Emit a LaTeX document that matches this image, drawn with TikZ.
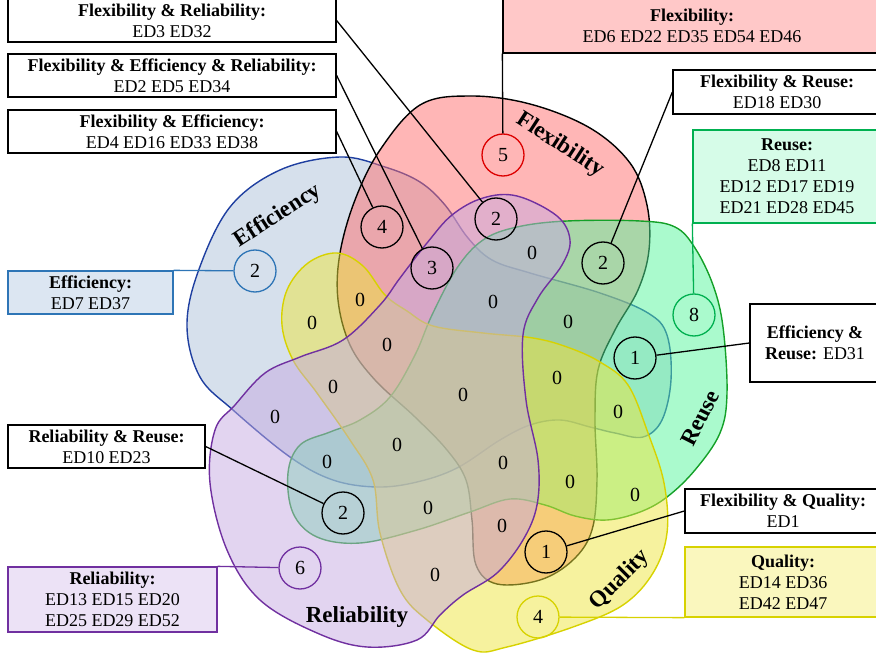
\documentclass[tikz,border=0pt]{standalone}
\usepackage{fontspec}
\setmainfont{Liberation Serif}
\definecolor{effC}{RGB}{173,193,217}
\definecolor{effL}{RGB}{31,63,160}
\definecolor{flxC}{RGB}{255,110,110}
\definecolor{reuC}{RGB}{85,245,155}
\definecolor{reuL}{RGB}{20,160,40}
\definecolor{quaC}{RGB}{237,229,61}
\definecolor{quaL}{RGB}{215,210,0}
\definecolor{relC}{RGB}{197,169,225}
\definecolor{relL}{RGB}{112,48,160}
\definecolor{redL}{RGB}{220,0,0}
\definecolor{bluL}{RGB}{46,117,182}
\definecolor{grnL}{RGB}{0,176,80}
\definecolor{flxB}{RGB}{255,200,200}
\definecolor{reuB}{RGB}{214,252,232}
\definecolor{quaB}{RGB}{250,247,190}
\definecolor{effB}{RGB}{220,230,242}
\definecolor{relB}{RGB}{236,226,246}
\begin{document}
\begin{tikzpicture}[x=1pt,y=-1pt,
  setshape/.style={fill opacity=0.5, line width=1.4pt},
  lbl/.style={font=\fontsize{23}{26}\selectfont\bfseries, inner sep=0},
  cnt/.style={circle, draw, minimum size=42pt, inner sep=0, line width=1.3pt, font=\fontsize{20}{24}\selectfont},
  zero/.style={font=\fontsize{20}{24}\selectfont, inner sep=0},
  tbox/.style={draw, line width=1.3pt, fill=white, align=center, inner sep=0, font=\fontsize{18}{21}\selectfont},
  conn/.style={line width=1.3pt}
]
\useasboundingbox (0,0) rectangle (876,655);
\clip (0,0) rectangle (876,655);

% Efficiency
\draw[setshape, draw=effL, fill=effC] plot[smooth cycle, tension=0.6] coordinates {
 (340,157) (385,167) (420,182) (445,205) (468,238) (492,260) (530,273) (600,293)
 (648,313) (667,335) (671,380) (662,420) (643,437) (615,433) (590,427) (560,420)
 (530,425) (500,440) (457,468) (417,482) (377,487) (333,480) (290,457) (233,410)
 (200,377) (187,327) (198,272) (230,207) (280,170)};
% Flexibility
\draw[setshape, draw=black, fill=flxC] plot[smooth cycle, tension=0.6] coordinates {
 (420,105) (470,96) (530,104) (590,128) (630,163) (647,205) (649,250) (638,290)
 (615,330) (598,370) (595,420) (597,480) (592,530) (573,560) (540,580) (497,584)
 (476,565) (472,520) (466,480) (447,450) (415,417) (375,380) (350,345) (338,300)
 (340,253) (355,200) (380,150)};
% Reuse
\draw[setshape, draw=reuL, fill=reuC] plot[smooth cycle, tension=0.6] coordinates {
 (457,268) (483,240) (517,227) (567,221) (640,221) (675,227) (695,248) (713,285)
 (723,327) (727,393) (720,433) (695,470) (667,497) (640,512) (607,520) (575,516)
 (545,505) (510,499) (470,512) (417,530) (360,543) (317,537) (293,513) (288,473)
 (300,445) (330,432) (360,420) (390,397) (415,355) (432,315)};
% Quality
\draw[setshape, draw=quaL, fill=quaC] plot[smooth cycle, tension=0.6] coordinates {
 (337,253) (363,266) (385,295) (407,311) (433,326) (483,333) (533,338) (567,347)
 (600,362) (628,385) (648,433) (664,483) (667,533) (653,573) (623,605) (573,627)
 (507,647) (473,650) (427,620) (400,590) (380,533) (373,480) (350,440) (317,393)
 (293,360) (282,325) (287,290) (308,263)};
% Reliability
\draw[setshape, draw=relL, fill=relC] plot[smooth cycle, tension=0.6] coordinates {
 (483,198) (517,196) (557,216) (570,240) (562,265) (538,298) (523,335) (526,400)
 (538,460) (537,505) (523,540) (497,573) (463,595) (440,615) (417,640) (367,647)
 (317,633) (260,600) (227,550) (210,483) (215,430) (235,405) (265,373) (300,357)
 (343,340) (380,305) (400,278) (427,243) (452,215)};

% set labels
\node[lbl, rotate=-33] (tFlx) at (560,145) {Flexibility};
\node[lbl, rotate=33] (tEff) at (278,216) {Efficiency};
\node[lbl, rotate=63] (tReu) at (700,418) {Reuse};
\node[lbl, rotate=45] (tQua) at (620,580) {Quality};
\node[lbl] (tRel) at (357,617) {Reliability};

% zeros
\foreach \p [count=\i] in {(360,300),(312,323),(387,345),(333,387),(532,253),(493,302),(568,322),(275,417),(463,395),(557,378),(618,412),(397,445),(327,462),(503,463),(570,482),(635,495),(428,508),(502,526),(435,575)}
  \node[zero] (z\i) at \p {0};

% count circles
\node[cnt, draw=redL] (c5) at (503,155) {5};
\node[cnt] (c2a) at (496,219) {2};
\node[cnt] (c4f) at (382,227) {4};
\node[cnt] (c3) at (432,268) {3};
\node[cnt] (c2r) at (603,263) {2};
\node[cnt, draw=grnL] (c8) at (694,315) {8};
\node[cnt] (c1r) at (635,358) {1};
\node[cnt, draw=bluL] (c2e) at (255,271) {2};
\node[cnt] (c2b) at (343,513) {2};
\node[cnt, draw=relL] (c6) at (300,568) {6};
\node[cnt] (c1q) at (546,552) {1};
\node[cnt, draw=quaL] (c4q) at (538,617) {4};

% boxes
\node[tbox, minimum width=328pt, minimum height=43pt] (bA) at (172,20.5) {\textbf{Flexibility \& Reliability:}\\ED3 ED32};
\node[tbox, minimum width=328pt, minimum height=43pt] (bB) at (172,75.5) {\textbf{Flexibility \& Efficiency \& Reliability:}\\ED2 ED5 ED34};
\node[tbox, minimum width=328pt, minimum height=43pt] (bC) at (172,131.5) {\textbf{Flexibility \& Efficiency:}\\ED4 ED16 ED33 ED38};
\node[tbox, fill=flxB, minimum width=378pt, minimum height=54pt] (bD) at (692,26) {\textbf{Flexibility:}\\ED6 ED22 ED35 ED54 ED46};
\node[tbox, minimum width=208pt, minimum height=44pt] (bE) at (777,92) {\textbf{Flexibility \& Reuse:}\\ED18 ED30};
\node[tbox, draw=grnL, fill=reuB, minimum width=188pt, minimum height=93pt] (bF) at (787,176.5) {\textbf{Reuse:}\\ED8 ED11\\ED12 ED17 ED19\\ED21 ED28 ED45};
\node[tbox, minimum width=130pt, minimum height=78pt] (bG) at (815,343) {\textbf{Efficiency \&}\\\textbf{Reuse:} ED31};
\node[tbox, minimum width=196pt, minimum height=44pt] (bH) at (783,511) {\textbf{Flexibility \& Quality:}\\ED1};
\node[tbox, draw=quaL, fill=quaB, minimum width=196pt, minimum height=70pt] (bI) at (783,582) {\textbf{Quality:}\\ED14 ED36\\ED42 ED47};
\node[tbox, draw=bluL, fill=effB, minimum width=165pt, minimum height=43pt] (bJ) at (90.5,292.5) {\textbf{Efficiency:}\\ED7 ED37};
\node[tbox, minimum width=197pt, minimum height=43pt] (bK) at (106.5,446.5) {\textbf{Reliability \& Reuse:}\\ED10 ED23};
\node[tbox, draw=relL, fill=relB, minimum width=209pt, minimum height=65pt] (bL) at (112.5,599.5) {\textbf{Reliability:}\\ED13 ED15 ED20\\ED25 ED29 ED52};

% connectors
\draw[conn] (bA.east) -- (c2a);
\draw[conn] (bB.east) -- (c3);
\draw[conn] (bC.east) -- (c4f);
\draw[conn] (bD.south west) -- (c5);
\draw[conn] (bE.west) -- (c2r);
\draw[conn, draw=grnL] (bF.south west) -- (c8);
\draw[conn] (bG.west) -- (c1r);
\draw[conn] (bH.west) -- (c1q);
\draw[conn, draw=quaL] (bI.south west) -- (c4q);
\draw[conn, draw=bluL] (bJ.north east) -- (c2e);
\draw[conn] (bK.east) -- (c2b);
\draw[conn, draw=relL] (bL.north east) -- (c6);
\end{tikzpicture}
\end{document}
